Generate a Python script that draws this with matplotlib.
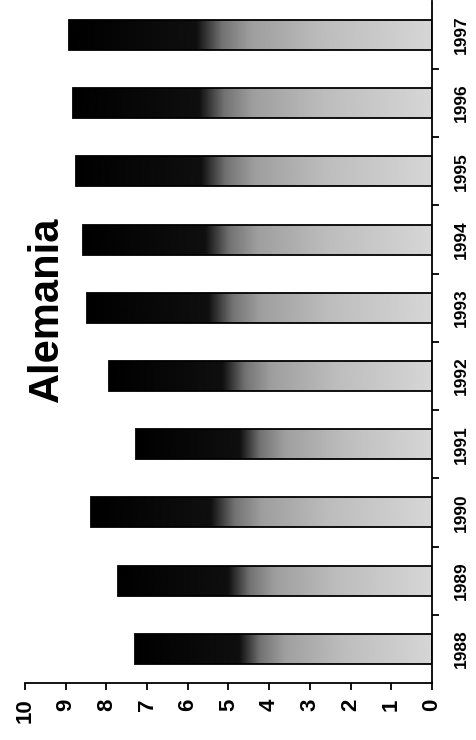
import matplotlib
matplotlib.use("Agg")
import matplotlib.pyplot as plt
import numpy as np

# datos (girada 90 grados)
anios = [1988, 1989, 1990, 1991, 1992, 1993, 1994, 1995, 1996, 1997]
valores = [7.3, 7.71, 8.39, 7.27, 7.94, 8.48, 8.57, 8.75, 8.83, 8.92]
ticks_valor = [0, 1, 2, 3, 4, 5, 6, 7, 8, 9, 10]
titulo = "Alemania"

plt.rcParams['font.family'] = ['Liberation Sans', 'DejaVu Sans']

fig = plt.figure(figsize=(4.76, 7.40), dpi=100)
ax = fig.add_axes([0.0525, 0.077, 0.855, 0.922])

pos = np.arange(len(anios))
alto = 0.44

# degradado: base clara (valor 0) -> punta negra
t = np.linspace(0, 1, 300)
grad = np.interp(t, [0.0, 0.3, 0.5, 0.58, 0.65, 1.0],
                 [0.84, 0.74, 0.62, 0.45, 0.06, 0.0])
grad = grad[np.newaxis, :]

barras = ax.barh(pos, valores, height=alto, facecolor='none',
                 edgecolor='black', linewidth=1.3, zorder=3)
for b, y, v in zip(barras, pos, valores):
  im = ax.imshow(grad, cmap='gray', vmin=0, vmax=1, aspect='auto',
                 extent=(0, v, y - alto/2, y + alto/2), zorder=2,
                 interpolation='bilinear')
  im.set_clip_path(b)

ax.set_xlim(10, 0)
ax.set_ylim(-0.5, len(anios) - 0.5)

ax.spines['top'].set_visible(False)
ax.spines['left'].set_visible(False)
ax.spines['bottom'].set_linewidth(1.3)
ax.spines['right'].set_linewidth(1.3)

ax.set_xticks(ticks_valor)
ax.set_xticklabels([str(v) for v in ticks_valor], rotation=90,
                   fontsize=16, fontweight='bold')
ax.tick_params(axis='x', direction='out', length=5, width=1.3, pad=6)

ax.yaxis.tick_right()
ax.set_yticks(pos)
ax.set_yticklabels([str(a) for a in anios], rotation=90,
                   fontsize=12.5, fontweight='bold', va='center')
ax.set_yticks(pos[:-1] + 0.5, minor=True)
ax.tick_params(axis='y', which='major', length=0, pad=16)
ax.tick_params(axis='y', which='minor', direction='out', length=5, width=1.3)

fig.text(0.099, 1 - 309/740, titulo, rotation=90, fontsize=30,
         fontweight='bold', ha='center', va='center')

fig.savefig("out.png", dpi=100)
